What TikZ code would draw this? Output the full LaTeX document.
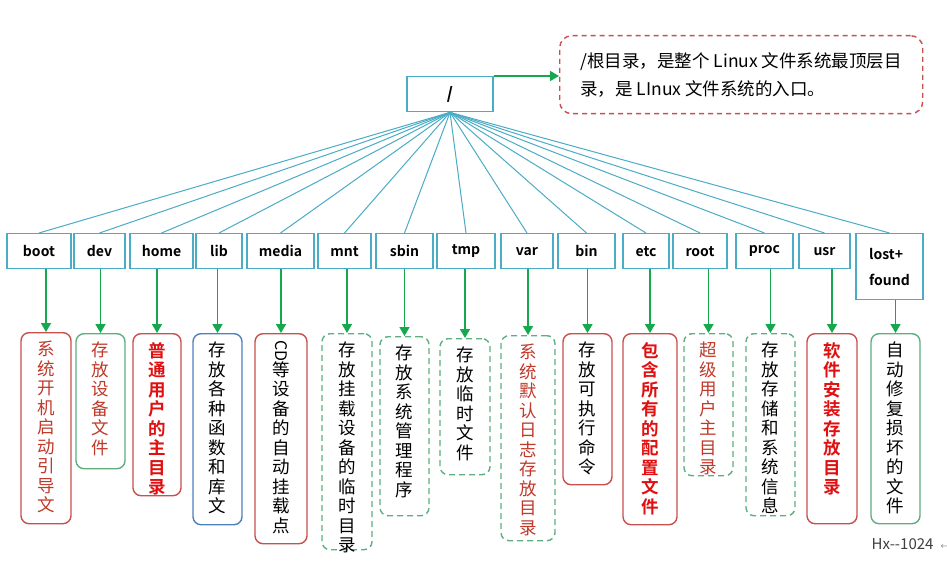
\documentclass[tikz,border=0pt]{standalone}
\usepackage{fontspec}
\setmainfont{Noto Sans CJK SC}[BoldFont={Noto Sans CJK SC Bold}]
\usetikzlibrary{arrows.meta,positioning,calc}
\definecolor{dirblue}{HTML}{4BACC6}
\definecolor{boxred}{HTML}{C8504F}
\definecolor{boxgreen}{HTML}{5DAF80}
\definecolor{boxblue}{HTML}{4F81BD}
\definecolor{arrowgreen}{HTML}{16A84E}
\definecolor{txtred}{HTML}{C0392B}
\definecolor{boldred}{HTML}{E01010}
\tikzset{
  dirbox/.style={draw=dirblue, line width=1.4pt, fill=white, minimum height=35pt, inner sep=2pt, anchor=north, font=\fontsize{14}{26}\selectfont\bfseries},
  fanline/.style={draw=dirblue, line width=1pt},
  greenarrow/.style={draw=arrowgreen, line width=1.6pt, -{Triangle[length=9pt,width=10pt]}},
  infobox/.style={line width=1.4pt, rounded corners=8pt, anchor=north, inner sep=0pt},
  redbox/.style={infobox, draw=boxred},
  greenbox/.style={infobox, draw=boxgreen},
  bluebox/.style={infobox, draw=boxblue},
  dashbox/.style={infobox, draw=boxgreen, dash pattern=on 6pt off 4pt},
  infotxt/.style={anchor=north, inner sep=0pt, align=center, font=\fontsize{17.5}{19.5}\selectfont},
  blacktxt/.style={infotxt, text=black},
  redtxt/.style={infotxt, text=txtred},
  boldtxt/.style={infotxt, text=boldred, font=\fontsize{17.5}{19.5}\selectfont\bfseries},
  callout/.style={draw=boxred, line width=1.4pt, dash pattern=on 5pt off 4pt, rounded corners=12pt, align=left, inner sep=0pt, minimum width=363pt, minimum height=78pt, font=\fontsize{17.5}{28}\selectfont},
}

\begin{document}
\begin{tikzpicture}[x=1pt, y=-1pt]
  \fill[white] (0,0) rectangle (947,561);
  \useasboundingbox (0,0) rectangle (947,561);

  % root of the tree and its note
  \node[dirbox, minimum width=86pt, font=\fontsize{16}{18}\selectfont\bfseries\itshape] (fsroot) at (450,76) {/};
  \node[callout, anchor=north west] (note) at (559,35) {/根目录，是整个 Linux 文件系统最顶层目\\录，是 LInux 文件系统的入口。};
  \draw[greenarrow] (fsroot.north east) -- (fsroot.north east -| note.west);

  % first level directories
  \foreach \n/\x/\w in {boot/39/64, dev/99.5/51, home/161.5/63, lib/219/46, media/280.5/67,
    mnt/344.5/53, sbin/404.5/57, tmp/466/58, var/527/52, bin/586.5/57,
    etc/646/46, root/700/54, proc/764.5/57, usr/824.5/51}
  {
    \node[dirbox, minimum width=\w pt] (\n) at (\x,233) {\n};
  }
  \node[dirbox, minimum width=67pt, minimum height=66pt, align=left] (lost) at (889.5,233) {lost+\\found};

  % fan from the root
  \foreach \n in {boot,dev,home,lib,media,mnt,sbin,tmp,var,bin,etc,root,proc,usr,lost}
    \draw[fanline] (fsroot.south) -- (\n.north);

  % what each directory holds
  \foreach \n/\x/\y/\w/\h/\bs/\ts/\txt in {
    boot/46/332/50/191/redbox/redtxt/{系\\统\\开\\机\\启\\动\\引\\导\\文},
    dev/100.5/333/49/135/greenbox/redtxt/{存\\放\\设\\备\\文\\件},
    home/157/333/48/162/redbox/boldtxt/{普\\通\\用\\户\\的\\主\\目\\录},
    lib/217.5/333/49/191/bluebox/blacktxt/{存\\放\\各\\种\\函\\数\\和\\库\\文},
    media/281/333/52/210/redbox/blacktxt/{\phantom{等}\\等\\设\\备\\的\\自\\动\\挂\\载\\点},
    mnt/347/333/50/216/dashbox/blacktxt/{存\\放\\挂\\载\\设\\备\\的\\临\\时\\目\\录},
    sbin/404.5/336/49/179/dashbox/blacktxt/{存\\放\\系\\统\\管\\理\\程\\序},
    tmp/465/338/50/136/dashbox/blacktxt/{存\\放\\临\\时\\文\\件},
    var/528/335/54/205/dashbox/redtxt/{系\\统\\默\\认\\日\\志\\存\\放\\目\\录},
    bin/587.5/333/49/151/redbox/blacktxt/{存\\放\\可\\执\\行\\命\\令},
    etc/650/333/54/191/redbox/boldtxt/{包\\含\\所\\有\\的\\配\\置\\文\\件},
    root/708.5/333/49/142/dashbox/redtxt/{超\\级\\用\\户\\主\\目\\录},
    proc/770.5/333/49/182/dashbox/blacktxt/{存\\放\\存\\储\\和\\系\\统\\信\\息},
    usr/832/333/50/190/redbox/boldtxt/{软\\件\\安\\装\\存\\放\\目\\录},
    lost/895.5/333/49/190/greenbox/blacktxt/{自\\动\\修\\复\\损\\坏\\的\\文\\件}}
  {
    \node[\bs, minimum width=\w pt, minimum height=\h pt] (\n-info) at (\x,\y) {};
    \node[\ts] (\n-txt) at ($(\n-info.north)+(0,9)$) {\txt};
    \draw[greenarrow] (\n.south -| \n-info.north) -- (\n-info.north);
  }
  % CD set sideways, as in vertical writing
  \node[rotate=-90, inner sep=0pt, font=\fontsize{16}{18}\selectfont] (cd) at ($(media-txt.north)+(0,9)$) {CD};

  \node[font=\fontsize{15}{17}\selectfont, text=black!75, anchor=east] (sign) at (937,544) {Hx-{}-1024};
  \node[font=\fontsize{8}{9}\selectfont, text=black!50, right=0pt of sign.south east, anchor=south west] (mark) {←};
\end{tikzpicture}
\end{document}
